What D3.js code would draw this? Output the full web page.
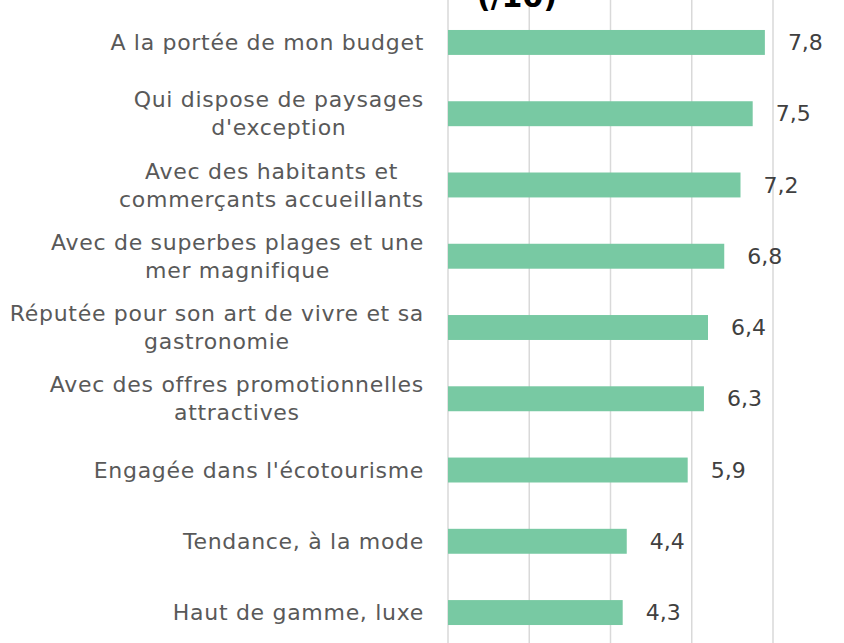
<!DOCTYPE html>
<html>
<head>
<meta charset="utf-8">
<script src="https://cdn.jsdelivr.net/npm/d3@7"></script>
<style>
  body { margin: 0; background: #fff; }
  svg { display: block; font-family: "DejaVu Sans", sans-serif; }
</style>
</head>
<body>
<div id="chart"></div>
<script>
const categories = [
    'A la portée de mon budget',
    'Qui dispose de paysages\nd\'exception',
    'Avec des habitants et\ncommerçants accueillants',
    'Avec de superbes plages et une\nmer magnifique',
    'Réputée pour son art de vivre et sa\ngastronomie',
    'Avec des offres promotionnelles\nattractives',
    'Engagée dans l\'écotourisme',
    'Tendance, à la mode',
    'Haut de gamme, luxe'
];
const values = [7.8, 7.5, 7.2, 6.8, 6.4, 6.3, 5.9, 4.4, 4.3];
const gridTicks = [0, 2, 4, 6, 8];
const title = '(/10)';

const W = 844, H = 643;

const svg = d3.select('#chart')
              .append('svg')
                .attr('width', W)
                .attr('height', H);

const xScale = d3.scaleLinear()
                 .domain([0, 8])
                 .range([448, 773]);

const yScale = d3.scaleBand()
                 .domain(categories)
                 .range([8.6, 646.4])
                 .paddingInner(0.65)
                 .paddingOuter(0.3);

// gridlines
svg.append('g')
    .selectAll('line')
    .data(gridTicks)
    .enter()
    .append('line')
        .attr('x1', d => xScale(d))
        .attr('x2', d => xScale(d))
        .attr('y1', 0)
        .attr('y2', H)
        .attr('stroke', '#d9d9d9')
        .attr('stroke-width', 1.5);

// bars
svg.append('g')
    .selectAll('rect')
    .data(values)
    .enter()
    .append('rect')
        .attr('x', xScale(0))
        .attr('y', (d, i) => yScale(categories[i]))
        .attr('width', d => xScale(d) - xScale(0))
        .attr('height', yScale.bandwidth())
        .attr('fill', '#78c9a3');

// value labels
svg.append('g')
    .selectAll('text')
    .data(values)
    .enter()
    .append('text')
        .attr('x', d => xScale(d) + 23)
        .attr('y', (d, i) => yScale(categories[i]) + yScale.bandwidth() / 2)
        .attr('dy', '0.35em')
        .attr('font-size', '22px')
        .attr('fill', '#404040')
        .text(d => d.toFixed(1).replace('.', ','));

// category labels (Excel style: block right aligned, lines centred)
const labelRight = 424;
const lineH = 28;
const labels = svg.append('g');
categories.forEach(cat => {
    const lines = cat.split('\n');
    const cy = yScale(cat) + yScale.bandwidth() / 2;
    const g = labels.append('g');
    const texts = lines.map((line, j) => g.append('text')
        .attr('y', cy + (j - (lines.length - 1) / 2) * lineH)
        .attr('dy', '0.35em')
        .attr('font-size', '22px')
        .attr('letter-spacing', '0.7px')
        .attr('fill', '#595959')
        .attr('text-anchor', 'middle')
        .text(line));
    const maxW = d3.max(texts, t => t.node().getComputedTextLength());
    texts.forEach(t => t.attr('x', labelRight - maxW / 2));
});

// title (cut at the top)
svg.append('text')
    .attr('x', 517)
    .attr('y', 7)
    .attr('text-anchor', 'middle')
    .attr('font-size', '30px')
    .attr('font-weight', 'bold')
    .attr('fill', '#000')
    .text(title);
</script>
</body>
</html>
